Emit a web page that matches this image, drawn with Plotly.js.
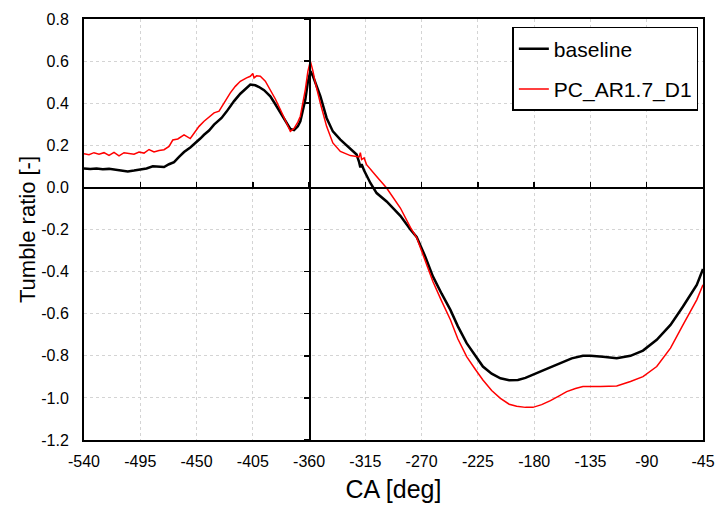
<!DOCTYPE html>
<html>
<head>
<meta charset="utf-8">
<script src="https://cdn.plot.ly/plotly-3.0.1.min.js"></script>
<style>html,body{margin:0;padding:0;background:#fff;}#chart{width:716px;height:505px;}</style>
</head>
<body>
<div id="chart"></div>
<script>
const baselineCA = [-540,-535,-530,-525,-520,-515,-510,-505,-500,-495,-490,-485,-480,-476,-472,-468,-464,-460,-455,-450,-447,-444,-440,-436,-430,-426,-420,-415,-410,-407,-403,-400,-396,-391,-387,-383,-379,-375,-372,-369,-367,-365,-363,-361,-359,-357,-355,-351,-346,-341,-335,-330,-327,-322,-320,-319,-318,-316,-311,-306,-298,-292,-287,-279,-274,-267,-261,-254,-247,-241,-234,-227,-221,-214,-207,-200,-193,-187,-181,-170,-159,-150,-141,-135,-125,-114,-103,-93,-82,-71,-61,-50,-45];
const baselineTR = [0.090,0.088,0.090,0.086,0.088,0.084,0.078,0.076,0.080,0.084,0.090,0.100,0.098,0.097,0.110,0.120,0.145,0.168,0.190,0.215,0.232,0.250,0.270,0.298,0.330,0.360,0.410,0.445,0.475,0.489,0.485,0.477,0.462,0.433,0.395,0.354,0.315,0.278,0.272,0.290,0.314,0.360,0.417,0.500,0.552,0.530,0.500,0.433,0.330,0.266,0.227,0.200,0.187,0.156,0.120,0.095,0.110,0.080,0.021,-0.027,-0.067,-0.105,-0.135,-0.200,-0.235,-0.330,-0.423,-0.505,-0.582,-0.660,-0.740,-0.800,-0.851,-0.885,-0.907,-0.916,-0.915,-0.905,-0.891,-0.862,-0.835,-0.812,-0.800,-0.800,-0.805,-0.812,-0.800,-0.775,-0.724,-0.653,-0.566,-0.463,-0.388];

const pcCA = [-540,-536,-532,-528,-524,-520,-516,-512,-508,-504,-500,-496,-492,-488,-484,-480,-476,-472,-469,-465,-460,-455,-451,-448,-444,-440,-436,-432,-428,-423,-419,-415,-410,-407,-405,-404,-402,-399,-395,-391,-387,-383,-379,-375,-372,-369,-367,-365,-363,-361,-359,-357,-355,-351,-346,-341,-335,-327,-321,-320,-319,-318,-316,-314,-306,-298,-287,-279,-274,-267,-261,-254,-247,-241,-234,-227,-221,-214,-207,-200,-194,-187,-181,-174,-167,-160,-154,-147,-141,-127,-114,-103,-93,-82,-71,-61,-50,-45];
const pcTR = [0.160,0.155,0.165,0.158,0.165,0.152,0.166,0.150,0.165,0.160,0.158,0.168,0.163,0.180,0.168,0.175,0.179,0.195,0.225,0.230,0.250,0.232,0.265,0.290,0.314,0.335,0.354,0.362,0.400,0.449,0.480,0.504,0.520,0.528,0.541,0.520,0.530,0.528,0.505,0.465,0.420,0.370,0.315,0.266,0.280,0.310,0.338,0.400,0.465,0.550,0.600,0.555,0.497,0.400,0.290,0.211,0.171,0.151,0.147,0.145,0.165,0.132,0.140,0.108,0.052,-0.003,-0.098,-0.190,-0.238,-0.350,-0.447,-0.540,-0.629,-0.720,-0.804,-0.865,-0.915,-0.965,-1.002,-1.030,-1.040,-1.045,-1.045,-1.032,-1.013,-0.990,-0.970,-0.955,-0.946,-0.946,-0.943,-0.922,-0.899,-0.851,-0.764,-0.653,-0.534,-0.463];

const xTicks = [-540,-495,-450,-405,-360,-315,-270,-225,-180,-135,-90,-45];
const xTickText = ["-540","-495","-450","-405","-360","-315","-270","-225","-180","-135","-90","-45"];
const yTicks = [0.8,0.6,0.4,0.2,0.0,-0.2,-0.4,-0.6,-0.8,-1.0,-1.2];
const yTickText = ["0.8","0.6","0.4","0.2","0.0","-0.2","-0.4","-0.6","-0.8","-1.0","-1.2"];
const xRange = [-540,-45];
const yRange = [-1.2,0.8];
const xCross = -360;
const yCross = 0;

const font = 'Liberation Sans, Arial, sans-serif';

const traces = [
  {x: baselineCA, y: baselineTR, name: 'baseline', type: 'scatter', mode: 'lines',
   line: {color: '#000000', width: 2.5}, legendgroup: 'a'},
  {x: pcCA, y: pcTR, name: 'PC_AR1.7_D1', type: 'scatter', mode: 'lines',
   line: {color: '#ff0000', width: 1.5}, legendgroup: 'b'}
];

const layout = {
  width: 716, height: 505,
  margin: {l: 84, r: 13, t: 19, b: 65},
  paper_bgcolor: '#ffffff', plot_bgcolor: '#ffffff',
  font: {family: font, color: '#000000', size: 16},
  showlegend: true,
  legend: {x: 0.692, y: 0.981, xanchor: 'left', yanchor: 'top',
    bordercolor: '#000000', borderwidth: 1.5, bgcolor: '#ffffff',
    font: {family: font, size: 21, color: '#000000'},
    itemwidth: 30, tracegroupgap: 10, traceorder: 'grouped'},
  xaxis: {range: xRange, tickvals: xTicks, ticktext: xTickText,
    showgrid: true, gridcolor: '#d4d4d4', griddash: '3px,3px', gridwidth: 1,
    showline: true, linecolor: '#000000', linewidth: 2, mirror: true,
    ticks: '', zeroline: false, ticklabelstandoff: 6,
    tickfont: {family: font, size: 16, color: '#000000'},
    title: {text: 'CA [deg]', font: {family: font, size: 25, color: '#000000'}, standoff: 11}},
  yaxis: {range: yRange, tickvals: yTicks, ticktext: yTickText,
    showgrid: true, gridcolor: '#d4d4d4', griddash: '3px,3px', gridwidth: 1,
    showline: true, linecolor: '#000000', linewidth: 2, mirror: true,
    ticks: '', zeroline: false, ticklabelstandoff: 10,
    tickfont: {family: font, size: 16, color: '#000000'},
    title: {text: 'Tumble ratio [-]', font: {family: font, size: 22, color: '#000000'}, standoff: 0}},
  xaxis2: {range: xRange, tickvals: xTicks, overlaying: 'x', anchor: 'free',
    position: (yCross - yRange[0]) / (yRange[1] - yRange[0]),
    side: 'bottom', showticklabels: false, showgrid: false, zeroline: false,
    showline: true, linecolor: '#000000', linewidth: 1.5,
    ticks: 'inside', ticklen: 5, tickwidth: 1.5, tickcolor: '#000000'},
  yaxis2: {range: yRange, tickvals: yTicks, overlaying: 'y', anchor: 'free',
    position: (xCross - xRange[0]) / (xRange[1] - xRange[0]),
    side: 'left', showticklabels: false, showgrid: false, zeroline: false,
    showline: true, linecolor: '#000000', linewidth: 1.5,
    ticks: 'outside', ticklen: 5, tickwidth: 1.5, tickcolor: '#000000'}
};

// invisible trace to activate the crossing axes
traces.push({x: [xRange[0]], y: [yRange[0]], xaxis: 'x2', yaxis: 'y2', mode: 'markers',
  marker: {opacity: 0}, showlegend: false, hoverinfo: 'skip', type: 'scatter'});

Plotly.newPlot('chart', traces, layout, {displayModeBar: false, staticPlot: true});
</script>
</body>
</html>
